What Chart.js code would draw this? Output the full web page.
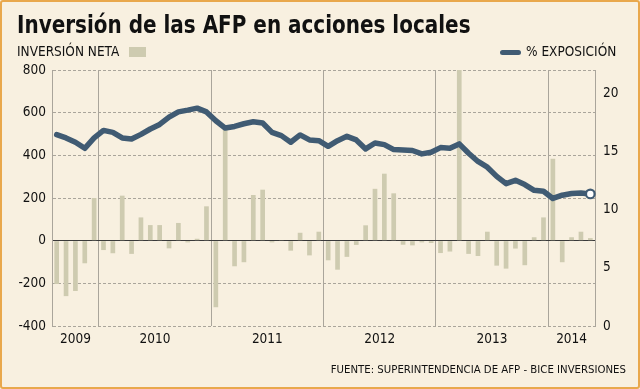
<!DOCTYPE html>
<html>
<head>
<meta charset="utf-8">
<script src="https://cdn.jsdelivr.net/npm/chart.js@4.4.0/dist/chart.umd.min.js"></script>
<style>
  html, body { margin: 0; padding: 0; }
  body {
    width: 640px; height: 389px; overflow: hidden; position: relative;
    background: #f8f0e0;
    font-family: "DejaVu Sans Condensed", "DejaVu Sans", sans-serif;
    color: #111;
  }
  #marco {
    position: absolute; left: 0; top: 0; width: 640px; height: 389px;
    box-sizing: border-box; border: 2px solid #e9a84c; border-radius: 3px;
    pointer-events: none;
  }
  #grafico { position: absolute; left: 0; top: 0; }
  .texto { position: absolute; white-space: nowrap; line-height: 1; }
  #titulo {
    left: 17px; top: 12.5px; font-size: 24px; font-weight: bold;
    font-family: "Liberation Sans Narrow", "DejaVu Sans Condensed", sans-serif;
    transform: scaleX(0.925); transform-origin: 0 0;
  }
  #leyenda-barras { left: 17px; top: 45px; font-size: 13.5px; }
  #muestra-barras { position: absolute; left: 129px; top: 47px; width: 17px; height: 10px; background: #cecbb0; }
  #muestra-linea { position: absolute; left: 500px; top: 49.5px; width: 21px; height: 5px; border-radius: 3px; background: #405b73; }
  #leyenda-linea { left: 526px; top: 45px; font-size: 13.5px; }
  #fuente { right: 14px; top: 364px; font-size: 11.3px; }
</style>
</head>
<body>
<canvas id="grafico" width="640" height="389"></canvas>
<div class="texto" id="titulo">Inversión de las AFP en acciones locales</div>
<div class="texto" id="leyenda-barras">INVERSIÓN NETA</div>
<div id="muestra-barras"></div>
<div id="muestra-linea"></div>
<div class="texto" id="leyenda-linea">% EXPOSICIÓN</div>
<div class="texto" id="fuente">FUENTE: SUPERINTENDENCIA DE AFP - BICE INVERSIONES</div>
<div id="marco"></div>
<script>
// meses: ago 2009 a may 2014
const meses = [
    "ago-09", "sep-09", "oct-09", "nov-09", "dic-09",
    "ene-10", "feb-10", "mar-10", "abr-10", "may-10", "jun-10", "jul-10", "ago-10", "sep-10", "oct-10", "nov-10", "dic-10",
    "ene-11", "feb-11", "mar-11", "abr-11", "may-11", "jun-11", "jul-11", "ago-11", "sep-11", "oct-11", "nov-11", "dic-11",
    "ene-12", "feb-12", "mar-12", "abr-12", "may-12", "jun-12", "jul-12", "ago-12", "sep-12", "oct-12", "nov-12", "dic-12",
    "ene-13", "feb-13", "mar-13", "abr-13", "may-13", "jun-13", "jul-13", "ago-13", "sep-13", "oct-13", "nov-13", "dic-13",
    "ene-14", "feb-14", "mar-14", "abr-14", "may-14"
];

const anios = ["2009", "2010", "2011", "2012", "2013", "2014"];

const inversionNeta = [
    -203, -260, -236, -106, 200,
    -44, -59, 211, -62, 109, 73, 73, -36, 83, -8, 9, 161,
    -312, 527, -120, -101, 214, 239, -8, 3, -47, 37, -69, 42,
    -92, -136, -76, -20, 72, 243, 314, 222, -19, -22, -8, -11,
    -58, -51, 800, -62, -72, 42, -117, -131, -37, -115, 16, 109,
    384, -101, 16, 42, 12
];

const exposicion = [
    16.44, 16.16, 15.79, 15.27, 16.16,
    16.81, 16.64, 16.16, 16.07, 16.47, 16.93, 17.32, 17.95, 18.4, 18.55, 18.72, 18.4,
    17.64, 17.01, 17.15, 17.38, 17.55, 17.44, 16.64, 16.36, 15.79, 16.42, 15.99, 15.93,
    15.44, 15.93, 16.3, 15.99, 15.22, 15.73, 15.59, 15.16, 15.13, 15.08, 14.79, 14.93,
    15.33, 15.27, 15.65, 14.85, 14.14, 13.65, 12.86, 12.23, 12.52, 12.15, 11.66, 11.58,
    10.96, 11.24, 11.38, 11.43, 11.35
];

const ticksInversion = [-400, -200, 0, 200, 400, 600, 800];
const ticksExposicion = [0, 5, 10, 15, 20];

const colorBarra = "#cecbb0";
const colorLinea = "#405b73";
const colorGrilla = "#aaa59b";
const fuenteTexto = '"DejaVu Sans Condensed", "DejaVu Sans", sans-serif';

// etiquetas de año centradas bajo cada tramo
const etiquetasAnio = {
    id: "etiquetasAnio",
    afterDraw(chart) {
        const ejeX = chart.scales.x;
        const c = chart.ctx;
        c.save();
        c.font = "13.5px " + fuenteTexto;
        c.fillStyle = "#111";
        c.textAlign = "center";
        c.textBaseline = "middle";
        anios.forEach(anio => {
            const indices = [];
            meses.forEach((m, i) => { if (m.endsWith(anio.slice(2))) indices.push(i); });
            const centro = (ejeX.getPixelForValue(indices[0]) + ejeX.getPixelForValue(indices[indices.length - 1])) / 2;
            c.fillText(anio, centro, chart.chartArea.bottom + 13.5);
        });
        c.restore();
    }
};

Chart.defaults.font.family = fuenteTexto;
Chart.defaults.font.size = 13.5;
Chart.defaults.color = "#111";

const ultimo = exposicion.length - 1;

new Chart(document.getElementById("grafico").getContext("2d"), {
    type: "bar",
    data: {
        labels: meses,
        datasets: [
            {
                type: "line",
                label: "% EXPOSICIÓN",
                data: exposicion,
                yAxisID: "y2",
                borderColor: colorLinea,
                borderWidth: 5.5,
                borderJoinStyle: "round",
                borderCapStyle: "round",
                tension: 0,
                pointRadius: ctx => ctx.dataIndex === ultimo ? 4.3 : 0,
                pointBackgroundColor: "#ffffff",
                pointBorderColor: colorLinea,
                pointBorderWidth: 2.2,
                order: 0
            },
            {
                label: "INVERSIÓN NETA",
                data: inversionNeta,
                yAxisID: "y",
                backgroundColor: colorBarra,
                barPercentage: 0.5,
                categoryPercentage: 1,
                order: 1
            }
        ]
    },
    options: {
        responsive: false,
        animation: false,
        layout: { padding: { top: 70, bottom: 63, left: 0, right: 0 } },
        plugins: { legend: { display: false }, tooltip: { enabled: false } },
        scales: {
            x: {
                ticks: { display: false },
                border: { display: false },
                grid: {
                    offset: true,
                    drawTicks: false,
                    color: ctx => (ctx.tick && meses[ctx.index] && meses[ctx.index].startsWith("ene")) ? colorGrilla : "rgba(0,0,0,0)"
                },
                afterFit: eje => { eje.height = 0; }
            },
            y: {
                position: "left",
                min: ticksInversion[0],
                max: ticksInversion[ticksInversion.length - 1],
                ticks: { stepSize: 200, padding: 6, color: "#111" },
                grid: {
                    drawTicks: false,
                    color: ctx => (ctx.tick && ctx.tick.value === 0) ? "#3a3a3a" : colorGrilla
                },
                border: {
                    display: true,
                    color: colorGrilla,
                    dash: ctx => (ctx.tick && ctx.tick.value === 0) ? [] : [3, 2]
                },
                afterFit: eje => { eje.width = 52; }
            },
            y2: {
                position: "right",
                min: 0,
                max: 22,
                ticks: { stepSize: 5, includeBounds: false, padding: 8, color: "#111" },
                afterBuildTicks: eje => {
                    eje.ticks = ticksExposicion.map(v => ({ value: v }));
                },
                grid: { display: false, drawTicks: false },
                border: { display: true, color: colorGrilla },
                afterFit: eje => { eje.width = 45; }
            }
        }
    },
    plugins: [etiquetasAnio]
});
</script>
</body>
</html>
